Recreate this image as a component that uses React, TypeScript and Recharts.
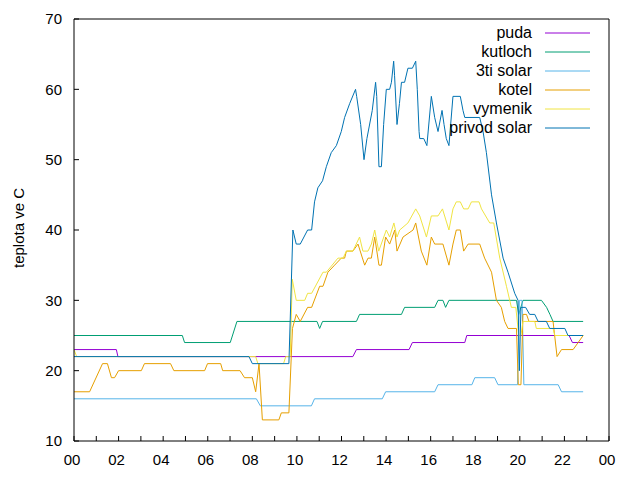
import { Line, LineChart, XAxis, YAxis } from 'recharts';

// hours of the day, temperatures in °C
const hourTicks = Array.from({ length: 25 }, (_, i) => i);
const tempTicks = [10, 20, 30, 40, 50, 60, 70];

const puda: [number, number][] = [
  [0, 23], [1.9, 23], [1.97, 22], [12.51, 22], [12.67, 23], [15.03, 23], [15.18, 24],
  [17.53, 24], [17.62, 25], [22.21, 25], [22.36, 24], [22.84, 24],
];

const kutloch: [number, number][] = [
  [0, 25], [4.86, 25], [4.96, 24], [7.01, 24], [7.31, 27], [10.9, 27], [11.02, 26], [11.15, 27],
  [12.67, 27], [12.81, 28], [14.69, 28], [14.83, 29], [16.18, 29], [16.33, 30], [16.55, 30],
  [16.67, 29], [16.82, 30], [19.85, 30], [19.95, 28], [20.14, 30], [20.97, 30], [21.2, 29],
  [21.35, 28], [21.49, 27], [22.84, 27],
];

const tretiSolar: [number, number][] = [
  [0, 16], [8.18, 16], [8.36, 15], [10.65, 15], [10.79, 16], [13.83, 16], [13.98, 17],
  [16.18, 17], [16.33, 18], [17.85, 18], [17.98, 19], [18.87, 19], [19.02, 18], [19.9, 18],
  [19.98, 30], [20.1, 30], [20.18, 18], [21.72, 18], [21.87, 17], [22.84, 17],
];

const kotel: [number, number][] = [
  [0, 17], [0.7, 17], [1.28, 21], [1.5, 21], [1.68, 19], [1.82, 19], [2.0, 20], [3.02, 20],
  [3.16, 21], [4.33, 21], [4.48, 20], [5.86, 20], [5.99, 21], [6.58, 21], [6.67, 20], [7.45, 20],
  [7.65, 19], [8.0, 19], [8.15, 17], [8.3, 21], [8.45, 13], [9.19, 13], [9.3, 14], [9.64, 14],
  [9.8, 26], [9.97, 28], [10.15, 27], [10.48, 29], [10.66, 29], [11.02, 32], [11.17, 32],
  [11.39, 34], [11.69, 35], [11.99, 36], [12.14, 36], [12.22, 37], [12.51, 37], [12.74, 38],
  [13.04, 35], [13.19, 36], [13.34, 36], [13.49, 39], [13.68, 35], [13.79, 35], [13.98, 39],
  [14.16, 38], [14.39, 40], [14.49, 37], [14.76, 39], [15.21, 40], [15.33, 41], [15.58, 37],
  [15.83, 35], [16.03, 39], [16.18, 38], [16.55, 38], [16.82, 35], [17.0, 38], [17.15, 40],
  [17.33, 40], [17.48, 37], [17.68, 38], [18.2, 38], [18.42, 36], [18.73, 34], [18.95, 30],
  [19.17, 29], [19.32, 27], [19.47, 26], [19.85, 26], [19.93, 18], [20.05, 18], [20.14, 28],
  [20.3, 28], [20.41, 27], [21.49, 27], [21.67, 22], [21.87, 23], [22.39, 23], [22.84, 25],
];

const vymenik: [number, number][] = [
  [0, 23], [0.12, 22], [8.15, 22], [8.25, 21], [9.4, 21], [9.5, 22], [9.7, 22], [9.79, 33],
  [9.97, 30], [10.35, 30], [10.48, 31], [10.66, 31], [11.17, 34], [11.32, 34], [11.84, 36],
  [12.07, 36], [12.22, 37], [12.51, 37], [12.81, 39], [12.96, 37], [13.19, 37], [13.34, 38],
  [13.49, 40], [13.67, 37], [14.01, 40], [14.16, 39], [14.35, 41], [14.49, 39], [14.61, 40],
  [14.98, 41], [15.33, 43], [15.51, 42], [15.81, 39], [16.03, 42], [16.33, 42], [16.53, 43],
  [16.82, 40], [17.0, 43], [17.15, 44], [17.33, 44], [17.48, 43], [17.68, 43], [17.83, 44],
  [18.17, 44], [18.28, 43], [18.65, 41], [18.83, 41], [19.1, 36], [19.4, 32], [19.62, 29],
  [19.82, 29], [19.95, 25], [20.05, 25], [20.14, 27], [20.67, 27], [20.74, 26], [21.49, 26],
  [21.57, 25], [22.16, 25], [22.84, 25],
];

const privodSolar: [number, number][] = [
  [0, 22], [7.85, 22], [8.0, 21], [9.64, 21], [9.82, 40], [9.97, 38], [10.15, 38], [10.48, 40],
  [10.66, 40], [10.79, 44], [10.94, 46], [11.15, 47], [11.32, 49], [11.54, 51], [11.77, 52],
  [11.99, 54], [12.14, 56], [12.37, 58], [12.63, 60], [12.68, 59], [12.86, 55], [13.01, 50],
  [13.14, 53], [13.38, 57], [13.53, 61], [13.58, 59], [13.68, 49], [13.79, 49], [13.89, 55],
  [14.01, 60], [14.16, 60], [14.24, 61], [14.34, 64], [14.38, 62], [14.49, 55], [14.6, 58],
  [14.69, 61], [14.83, 61], [14.98, 63], [15.18, 63], [15.33, 64], [15.4, 60], [15.48, 54],
  [15.51, 53], [15.69, 53], [15.83, 52], [16.03, 59], [16.18, 56], [16.33, 54], [16.51, 57],
  [16.6, 55], [16.7, 53], [16.82, 52], [17.0, 59], [17.33, 59], [17.45, 57], [17.53, 56],
  [18.2, 56], [18.35, 54], [18.5, 51], [18.73, 45], [18.95, 41], [19.25, 36], [19.47, 34],
  [19.77, 31], [19.92, 30], [19.98, 20], [20.05, 29], [20.26, 29], [20.44, 28], [20.67, 28],
  [20.82, 27], [21.19, 27], [21.34, 26], [22.02, 26], [22.16, 25], [22.84, 25],
];

const series = [
  { name: 'puda', color: '#9400d3', points: puda },
  { name: 'kutloch', color: '#009e73', points: kutloch },
  { name: '3ti solar', color: '#56b4e9', points: tretiSolar },
  { name: 'kotel', color: '#e69f00', points: kotel },
  { name: 'vymenik', color: '#f0e442', points: vymenik },
  { name: 'privod solar', color: '#0072b2', points: privodSolar },
];

const fmtHour = (h: number) => (h % 2 === 0 ? String(h % 24).padStart(2, '0') : '');

function YTitle() {
  return (
    <text x={18} y={228} transform="rotate(-90 18 228)" textAnchor="middle" dominantBaseline="central" fontSize={15} fill="#000">
      teplota ve C
    </text>
  );
}

export default function App() {
  return (
    <div style={{ position: 'absolute', left: 0, top: 0, width: 640, height: 480, background: '#fff', fontFamily: '"Liberation Sans", Arial, sans-serif' }}>
      <LineChart width={640} height={480} margin={{ top: 18, right: 30, bottom: 0, left: 0 }}>
        <XAxis xAxisId="b" dataKey="h" type="number" domain={[0, 24]} ticks={hourTicks} interval={0}
          tickFormatter={fmtHour} height={39} tickSize={-5} tickMargin={18} stroke="#000"
          tick={{ fill: '#000', fontSize: 15, dx: -2 }} allowDataOverflow />
        <XAxis xAxisId="t" orientation="top" type="number" domain={[0, 24]} ticks={hourTicks} interval={0}
          height={1} tickSize={-5} tick={false} stroke="#000" />
        <YAxis yAxisId="l" type="number" domain={[10, 70]} ticks={tempTicks} interval={0} width={74}
          tickSize={-5} tickMargin={17} stroke="#000" tick={{ fill: '#000', fontSize: 15 }} label={<YTitle />} />
        <YAxis yAxisId="r" orientation="right" type="number" domain={[10, 70]} ticks={tempTicks} interval={0}
          width={1} tickSize={-5} tick={false} stroke="#000" />
        {series.map((s) => (
          <Line key={s.name} xAxisId="b" yAxisId="l" data={s.points.map(([h, v]) => ({ h, v }))} dataKey="v"
            name={s.name} stroke={s.color} strokeWidth={1} dot={false} isAnimationActive={false} />
        ))}
      </LineChart>
      {series.map((s, i) => (
        <div key={s.name} style={{ position: 'absolute', left: 380, top: 33.3 + i * 18.9 - 10, height: 20, width: 210, display: 'flex', alignItems: 'center', fontSize: 16 }}>
          <span style={{ width: 152, textAlign: 'right' }}>{s.name}</span>
          <svg width={58} height={20}>
            <line x1={13} x2={58} y1={10} y2={10} stroke={s.color} strokeWidth={1} />
          </svg>
        </div>
      ))}
    </div>
  );
}
